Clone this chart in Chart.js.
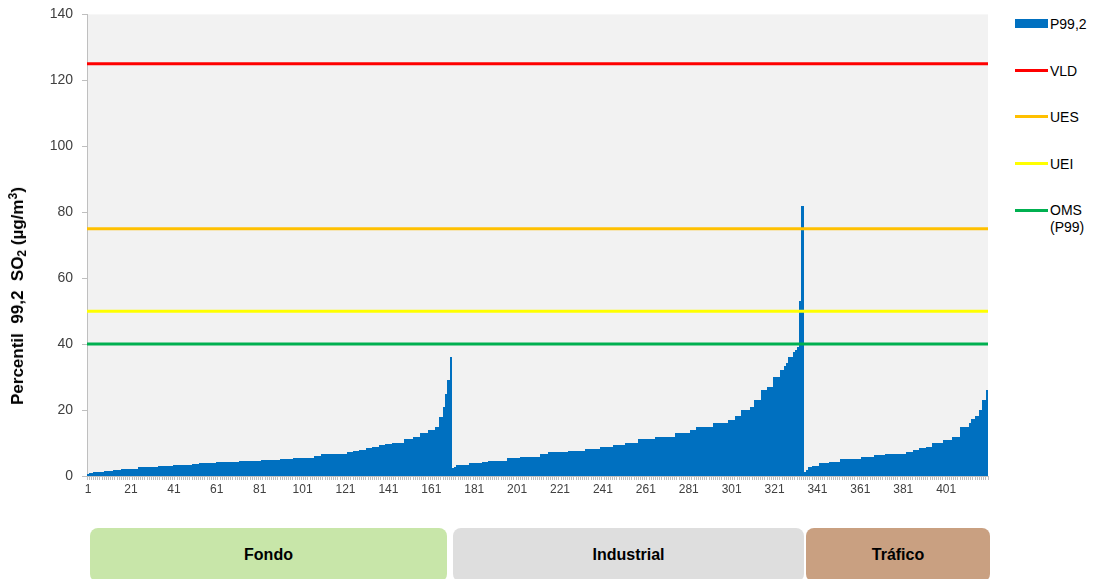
<!DOCTYPE html>
<html>
<head>
<meta charset="utf-8">
<script src="https://cdn.jsdelivr.net/npm/chart.js@4.4.1/dist/chart.umd.min.js"></script>
<style>
  body{margin:0;background:#fff;width:1094px;height:579px;overflow:hidden;position:relative;font-family:"Liberation Sans",Arial,sans-serif;}
  #wrap{position:absolute;left:0;top:-3px;width:1000px;height:503px;}
  #ytitle{position:absolute;left:18px;top:296px;transform:translate(-50%,-50%) rotate(-90deg);white-space:nowrap;font-weight:bold;font-size:17px;color:#000;}
  #ytitle sub{font-size:12px;vertical-align:-3px;line-height:0;}
  #ytitle sup{font-size:12px;vertical-align:6px;line-height:0;}
  .leg{position:absolute;left:1050px;font-size:14px;color:#000;line-height:17px;transform:translateY(-50%);}
  .sym{position:absolute;left:1015px;width:33px;}
  .box{position:absolute;top:528px;height:54px;border-radius:8px;display:flex;align-items:center;justify-content:center;font-family:"Liberation Sans Narrow","Liberation Sans",Arial,sans-serif;font-weight:bold;font-size:16px;color:#000;}
</style>
</head>
<body>
<div id="wrap"><canvas id="c" width="1000" height="503"></canvas></div>
<div id="ytitle">Percentil&nbsp; 99,2&nbsp; SO<sub>2</sub> (µg/m<sup>3</sup>)</div>

<div class="sym" style="top:19px;height:9px;background:#0070C0;"></div>
<div class="leg" style="top:24px;">P99,2</div>
<div class="sym" style="top:69px;height:3px;background:#FF0000;"></div>
<div class="leg" style="top:71px;">VLD</div>
<div class="sym" style="top:115px;height:3px;background:#FFC000;"></div>
<div class="leg" style="top:117px;">UES</div>
<div class="sym" style="top:162px;height:3px;background:#FFFF00;"></div>
<div class="leg" style="top:164px;">UEI</div>
<div class="sym" style="top:209px;height:3px;background:#00B050;"></div>
<div class="leg" style="top:219px;">OMS<br>(P99)</div>

<div class="box" style="left:90px;width:357px;background:#C8E6A9;">Fondo</div>
<div class="box" style="left:453px;width:351px;background:#DEDEDE;">Industrial</div>
<div class="box" style="left:806px;width:184px;background:#C9A081;">Tráfico</div>

<script>
// P99,2 values of SO2 (µg/m3) per station, sorted within each station type
const fondo = [
  0.5,0.8,1.0,1.2,1.2,1.2,1.2,1.2,1.4,1.4,
  1.4,1.4,1.8,1.8,1.8,1.8,2.1,2.1,2.1,2.1,
  2.1,2.1,2.1,2.1,2.6,2.6,2.6,2.6,2.6,2.6,
  2.8,2.8,2.8,3.1,3.1,3.1,3.1,3.1,3.1,3.1,
  3.3,3.3,3.3,3.3,3.3,3.3,3.3,3.3,3.3,3.6,
  3.6,3.6,3.9,3.9,3.9,3.9,3.9,3.9,3.9,3.9,
  4.1,4.1,4.1,4.1,4.1,4.1,4.3,4.3,4.3,4.3,
  4.3,4.5,4.5,4.5,4.5,4.5,4.7,4.7,4.7,4.7,
  4.7,5.0,5.0,5.0,5.0,5.0,5.0,5.0,5.0,5.0,
  5.3,5.3,5.3,5.3,5.3,5.3,5.6,5.6,5.6,5.6,
  5.6,5.6,5.6,5.6,5.6,5.6,6.1,6.1,6.1,6.6,
  6.6,6.6,6.6,6.6,6.8,6.8,6.8,6.8,6.8,6.8,
  6.8,7.2,7.2,7.2,7.6,7.6,7.6,8.0,8.0,8.0,
  8.4,8.4,8.4,8.9,8.9,8.9,9.3,9.3,9.3,9.7,
  9.7,9.7,10.1,10.1,10.1,10.1,10.1,10.1,11.1,11.1,
  11.1,11.1,11.9,11.9,11.9,12.9,12.9,12.9,12.9,13.9,
  13.9,13.9,14.9,14.9,18,18,21,25,29,36
];
const industrial = [
  2.5,2.8,3.3,3.3,3.3,3.3,3.3,3.3,3.9,3.9,
  3.9,3.9,3.9,3.9,4.2,4.2,4.2,4.7,4.7,4.7,
  4.7,4.7,4.7,4.7,4.7,4.7,5.5,5.5,5.5,5.5,
  5.5,5.5,5.9,5.9,5.9,5.9,5.9,5.9,5.9,5.9,
  5.9,6.7,6.7,6.7,6.7,7.3,7.3,7.3,7.3,7.3,
  7.3,7.3,7.3,7.3,7.7,7.7,7.7,7.7,7.7,7.7,
  7.7,7.7,8.2,8.2,8.2,8.2,8.2,8.2,8.2,8.7,
  8.7,8.7,8.7,8.7,8.7,9.3,9.3,9.3,9.3,9.3,
  9.3,9.9,9.9,9.9,9.9,9.9,9.9,11.1,11.1,11.1,
  11.1,11.1,11.1,11.1,11.1,11.9,11.9,11.9,11.9,11.9,
  11.9,11.9,11.9,11.9,12.9,12.9,12.9,12.9,12.9,12.9,
  12.9,13.9,13.9,13.9,14.8,14.8,14.8,14.8,14.8,14.8,
  14.8,14.8,16.1,16.1,16.1,16.1,16.1,16.1,16.1,17.1,
  17.1,17.1,18.1,18.1,18.1,19.9,19.9,19.9,19.9,21,
  21,23.2,23.2,23.2,26,26,26,26.9,26.9,26.9,
  30.1,30.1,30.1,32.1,32.1,33.3,34.3,36.2,36.2,37.5,
  38.2,39,53,82
];
const trafico = [
  1.3,1.8,2.6,2.6,3.1,3.1,3.1,3.8,3.8,3.8,
  3.8,3.8,4.2,4.2,4.2,4.2,4.2,5.1,5.1,5.1,
  5.1,5.1,5.1,5.1,5.1,5.1,5.1,5.7,5.7,5.7,
  5.7,5.7,5.7,6.3,6.3,6.3,6.3,6.3,6.7,6.7,
  6.7,6.7,6.7,6.7,6.7,6.7,6.7,6.7,7.4,7.4,
  7.4,7.9,7.9,7.9,8.4,8.4,8.4,8.9,8.9,8.9,
  9.9,9.9,9.9,9.9,9.9,10.9,10.9,10.9,10.9,11.9,
  11.9,11.9,11.9,14.8,14.8,14.8,14.8,16,17.2,17.2,
  18.2,18.2,20,23,23,26
];
// Reference thresholds (µg/m3)
const VLD = 125;
const UES = 75;
const UEI = 50;
const OMS = 40;
const yTicks = [0,20,40,60,80,100,120,140];

const values = fondo.concat(industrial, trafico);
const categories = values.map((v, i) => String(i + 1));

const bgPlugin = {
  id: 'bg',
  beforeDraw(chart) {
    const {ctx, chartArea: a} = chart;
    ctx.save();
    ctx.fillStyle = '#F2F2F2';
    ctx.fillRect(a.left, a.top, a.right - a.left, a.bottom - a.top);
    ctx.restore();
  }
};

// Snap the library-computed bar edges to whole pixels so adjacent bars join without seams
const snapPlugin = {
  id: 'snapBars',
  afterDatasetsUpdate(chart) {
    const meta = chart.getDatasetMeta(0);
    let prevR = null, prevRaw = null;
    meta.data.forEach(el => {
      const rawL = el.x - el.width / 2;
      const rawR = el.x + el.width / 2;
      let l = Math.round(rawL);
      if (prevRaw !== null && Math.abs(rawL - prevRaw) < 0.5) l = prevR;
      const r = Math.max(l + 1, Math.round(rawR));
      el.x = (l + r) / 2;
      el.width = r - l;
      el.y = Math.round(el.y);
      el.base = Math.round(el.base);
      prevR = r; prevRaw = rawR;
    });
  }
};

function hLine(label, val, color) {
  return {
    type: 'line', label, data: [{x: 0, y: val}, {x: 1, y: val}],
    xAxisID: 'x2', yAxisID: 'y', borderColor: color, borderWidth: 3,
    pointRadius: 0, fill: false, order: 0, tension: 0
  };
}

new Chart(document.getElementById('c'), {
  data: {
    labels: categories,
    datasets: [
      {type: 'bar', label: 'P99,2', data: values, backgroundColor: '#0070C0',
       borderWidth: 0, inflateAmount: 0, grouped: false, barPercentage: 1, categoryPercentage: 1, order: 1,
       xAxisID: 'x', yAxisID: 'y'},
      hLine('VLD', VLD, '#FF0000'),
      hLine('UES', UES, '#FFC000'),
      hLine('UEI', UEI, '#FFFF00'),
      hLine('OMS (P99)', OMS, '#00B050')
    ]
  },
  options: {
    responsive: false,
    animation: false,
    layout: {padding: {left: 0, right: 12, top: 11, bottom: 0}},
    plugins: {legend: {display: false}, tooltip: {enabled: false}},
    scales: {
      x: {
        type: 'category',
        offset: true,
        afterFit: s => { s.height = 24; },
        grid: {display: true, drawOnChartArea: false, drawTicks: true, tickLength: 4, color: '#BFBFBF', offset: true},
        border: {display: true, color: '#BFBFBF', width: 1},
        ticks: {
          autoSkip: false, maxRotation: 0, minRotation: 0, padding: 2,
          color: '#404040', font: {family: '"Liberation Sans", Arial, sans-serif', size: 12},
          callback: function(v, i) { return i % 20 === 0 ? categories[i] : ''; }
        }
      },
      x2: {type: 'linear', min: 0, max: 1, display: false},
      y: {
        min: 0, max: 140,
        afterFit: s => { s.width = 87; },
        afterBuildTicks: s => { s.ticks = yTicks.map(v => ({value: v})); },
        grid: {display: true, drawOnChartArea: false, drawTicks: true, tickLength: 5, color: '#BFBFBF'},
        border: {display: true, color: '#BFBFBF', width: 1},
        ticks: {padding: 9, color: '#404040', font: {family: '"Liberation Sans", Arial, sans-serif', size: 14}}
      }
    }
  },
  plugins: [bgPlugin, snapPlugin]
});
</script>
</body>
</html>
